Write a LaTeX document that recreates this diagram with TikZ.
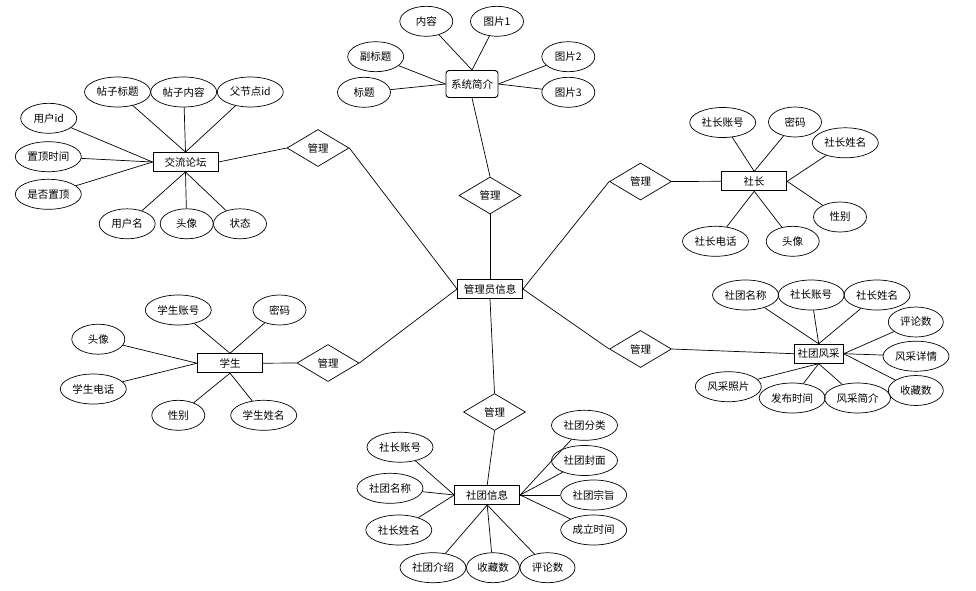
\documentclass[tikz,border=0pt]{standalone}
\usepackage{fontspec}
\setmainfont{Noto Sans CJK SC}
\usetikzlibrary{shapes.geometric}
\begin{document}
\begin{tikzpicture}[x=1pt,y=-1pt,font=\fontsize{10.5}{12}\selectfont,
 attr/.style={ellipse,draw,line width=0.7pt,minimum height=30pt,minimum width=66pt,inner sep=0pt},
 a2/.style={attr,minimum width=53pt},
 a3/.style={attr,minimum width=56pt},
 ent/.style={rectangle,draw,line width=0.9pt,minimum width=65pt,minimum height=19pt,inner sep=0pt},
 rel/.style={diamond,draw,line width=0.7pt,minimum width=62pt,minimum height=37pt,inner sep=0pt},
 conn/.style={line width=0.7pt}]
\useasboundingbox (0,0) rectangle (976,590);

% central entity and relations
\node[ent] (admin) at (490,289) {管理员信息};
\node[rel] (r0) at (490,195.5) {管理};
\node[rel] (r1) at (318,148) {管理};
\node[rel] (r2) at (640.5,181.5) {管理};
\node[rel] (r3) at (640.5,349) {管理};
\node[rel] (r4) at (328,363) {管理};
\node[rel] (r5) at (494.5,412) {管理};

% 系统简介
\node[ent,rounded corners=3pt,minimum width=52pt,minimum height=27pt] (sys) at (472,84) {系统简介};
\node[a2] (s1) at (426.3,21.3) {内容};
\node[a2] (s2) at (497,21.3) {图片1};
\node[a3] (s3) at (375.7,56.7) {副标题};
\node[a2] (s4) at (364,92.3) {标题};
\node[a2] (s5) at (568.3,56.7) {图片2};
\node[a2] (s6) at (568.3,92.3) {图片3};

% 交流论坛
\node[ent] (forum) at (185.5,162) {交流论坛};
\node[attr] (f1) at (117.5,92) {帖子标题};
\node[attr] (f2) at (183.7,92) {帖子内容};
\node[attr] (f3) at (250.3,92) {父节点id};
\node[a3] (f4) at (48.7,118.3) {用户id};
\node[attr] (f5) at (48.3,156.7) {置顶时间};
\node[attr] (f6) at (48.3,194.3) {是否置顶};
\node[a3] (f7) at (127.2,223.8) {用户名};
\node[a2] (f8) at (186.7,223.8) {头像};
\node[a2] (f9) at (240,223.8) {状态};

% 社长
\node[ent] (sz) at (754.2,181.3) {社长};
\node[attr] (z1) at (722.7,122.5) {社长账号};
\node[a2] (z2) at (795,122) {密码};
\node[attr] (z3) at (845.3,142.8) {社长姓名};
\node[a2] (z4) at (840,217) {性别};
\node[attr] (z5) at (715.5,241.3) {社长电话};
\node[a2] (z6) at (792.7,241.3) {头像};

% 社团风采
\node[ent,minimum width=49pt] (fc) at (818.7,353.7) {社团风采};
\node[attr] (c1) at (745.5,295) {社团名称};
\node[attr] (c2) at (811.2,295) {社长账号};
\node[attr] (c3) at (877,295) {社长姓名};
\node[attr,minimum width=55pt] (c4) at (915.8,322) {评论数};
\node[attr] (c5) at (916,356.2) {风采详情};
\node[attr,minimum width=55pt] (c6) at (915.8,390.5) {收藏数};
\node[attr] (c7) at (728.3,386.7) {风采照片};
\node[attr] (c8) at (792.2,398) {发布时间};
\node[attr] (c9) at (857.5,398) {风采简介};

% 社团信息
\node[ent] (info) at (487.2,495) {社团信息};
\node[attr] (i1) at (400,447.2) {社长账号};
\node[attr] (i2) at (390,488.3) {社团名称};
\node[attr] (i3) at (398.8,530) {社长姓名};
\node[attr] (i4) at (584.5,425.3) {社团分类};
\node[attr] (i5) at (584.5,460.5) {社团封面};
\node[attr] (i6) at (593.7,495) {社团宗旨};
\node[attr] (i7) at (593.7,530) {成立时间};
\node[attr] (i8) at (433,567.7) {社团介绍};
\node[a2] (i9) at (493,567.7) {收藏数};
\node[attr,minimum width=55pt] (i10) at (547.5,567.7) {评论数};

% 学生
\node[ent] (stu) at (230,363.2) {学生};
\node[attr] (t1) at (178.3,310) {学生账号};
\node[a2] (t2) at (279.5,310) {密码};
\node[a2] (t3) at (98.3,339.2) {头像};
\node[attr] (t4) at (93.3,389) {学生电话};
\node[a2] (t5) at (178.3,415.3) {性别};
\node[attr] (t6) at (263.7,415.3) {学生姓名};

% connectors
\begin{scope}[conn]
\draw (r0.south) -- (admin.north);
\draw (r1.east) -- (admin.west);
\draw (r2.west) -- (admin.east);
\draw (admin.east) -- (r3.west);
\draw (r4.east) -- (admin.west);
\draw (admin.south) -- (r5.north);

\draw (sys.south) -- (r0.north);
\draw (forum.east) -- (r1.west);
\draw (r2.east) -- (sz.west);
\draw (r3.east) -- (fc.west);
\draw (stu.east) -- (r4.west);
\draw (r5.south) -- (info.north);

\foreach \a in {s1,s2} \draw (\a) -- (sys.north);
\foreach \a in {s3,s4} \draw (\a) -- (sys.west);
\foreach \a in {s5,s6} \draw (\a) -- (sys.east);

\foreach \a in {f1,f2,f3} \draw (\a) -- (forum.north);
\foreach \a in {f4,f5,f6} \draw (\a) -- (forum.west);
\foreach \a in {f7,f8,f9} \draw (\a) -- (forum.south);

\foreach \a in {z1,z2} \draw (\a) -- (sz.north);
\foreach \a in {z3,z4} \draw (\a) -- (sz.east);
\foreach \a in {z5,z6} \draw (\a) -- (sz.south);

\foreach \a in {c1,c2,c3} \draw (\a) -- (fc.north);
\foreach \a in {c4,c5,c6} \draw (\a) -- (fc.east);
\foreach \a in {c7,c8,c9} \draw (\a) -- (fc.south);

\foreach \a in {i1,i2,i3} \draw (\a) -- (info.west);
\foreach \a in {i4,i5,i6,i7} \draw (\a) -- (info.east);
\foreach \a in {i8,i9,i10} \draw (\a) -- (info.south);

\foreach \a in {t1,t2} \draw (\a) -- (stu.north);
\foreach \a in {t3,t4} \draw (\a) -- (stu.west);
\foreach \a in {t5,t6} \draw (\a) -- (stu.south);
\end{scope}
\end{tikzpicture}
\end{document}
